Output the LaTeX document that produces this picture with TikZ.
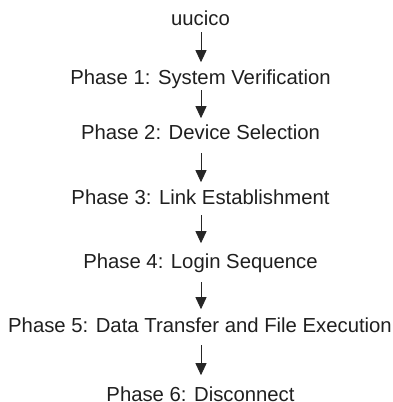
\documentclass[tikz,border=0pt]{standalone}
\usepackage{fontspec}
\setmainfont{Liberation Sans}
\usetikzlibrary{arrows.meta}
\tikzset{
  lbl/.style={anchor=base, inner sep=0pt, text height=14.6pt, text depth=0pt,
    font=\fontsize{20.3}{24}\selectfont, text=black!88},
  arr/.style={draw=black!85, line width=0.9pt, -{Triangle[length=12pt,width=11pt]}}
}
\begin{document}
\begin{tikzpicture}[x=1pt,y=1pt]
\useasboundingbox (0,0) rectangle (393,-402);
\node[lbl] (u)  at (200.5,-25)  {uucico};
\node[lbl] (p1) at (200.5,-84)  {Phase 1: System Verification};
\node[lbl] (p2) at (200.5,-139) {Phase 2: Device Selection};
\node[lbl] (p3) at (200.5,-204) {Phase 3: Link Establishment};
\node[lbl] (p4) at (200.5,-268) {Phase 4: Login Sequence};
\node[lbl] (p5) at (200,-332)   {Phase 5: Data Transfer and File Execution};
\node[lbl] (p6) at (200.5,-401) {Phase 6: Disconnect};
\draw[arr, shorten <=7pt,  shorten >=7pt]  (u.south -| 201,0)  -- (p1.north -| 201,0);
\draw[arr, shorten <=6pt,  shorten >=6pt]  (p1.south -| 201,0) -- (p2.north -| 201,0);
\draw[arr, shorten <=14pt, shorten >=7pt]  (p2.south -| 201,0) -- (p3.north -| 201,0);
\draw[arr, shorten <=11pt, shorten >=10pt] (p3.south -| 201,0) -- (p4.north -| 201,0);
\draw[arr, shorten <=14pt, shorten >=8pt]  (p4.south -| 201,0) -- (p5.north -| 201,0);
\draw[arr, shorten <=13pt, shorten >=11pt] (p5.south -| 201,0) -- (p6.north -| 201,0);
\end{tikzpicture}
\end{document}
